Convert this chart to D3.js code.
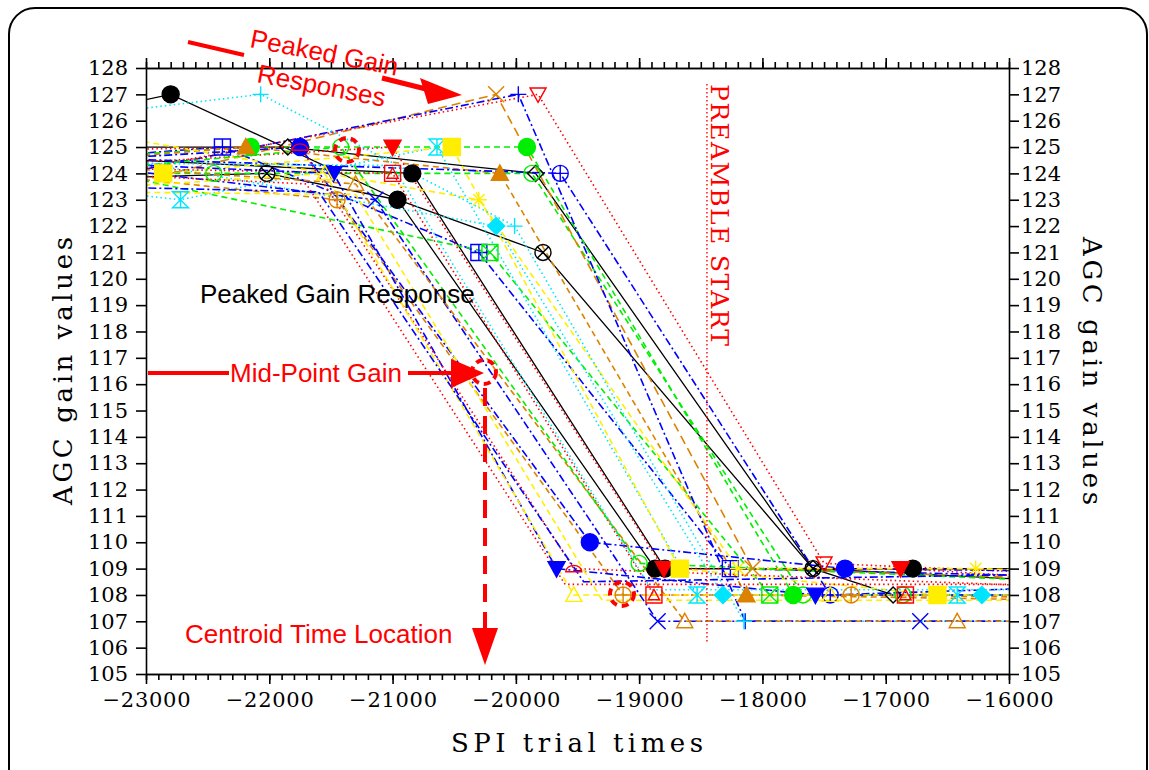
<!DOCTYPE html>
<html lang="en">
<head>
<meta charset="UTF-8">
<script src="https://d3js.org/d3.v7.min.js"></script>
<style>
  body { margin: 0; background: #fff; }
  svg { display: block; }
</style>
</head>
<body>
<div id="chart"></div>
<script>
// axis values
const xMajor = d3.range(-23000, -15999, 1000);
const xMinor = d3.range(-23000, -15999, 100);
const yTicks = d3.range(105, 129);
const preambleTime = -18450;

// series points [SPI trial time, AGC gain]
const sA = [[-23500,126.3],[-22800,127],[-20960,123],[-18870,109],[-16780,109],[-15500,109]];
const sB = [[-23500,124.6],[-20840,124],[-18790,109],[-15500,109]];
const sC = [[-23500,125],[-21850,125],[-19840,124],[-17590,109],[-16940,108],[-15500,108]];
const sD = [[-23500,123.8],[-22020,124],[-20960,123],[-19780,121],[-17590,109],[-15500,108.5]];
const sE = [[-23500,124.6],[-22380,125],[-20300,121],[-18260,109],[-15500,108.7]];
const sF = [[-23500,124.2],[-20210,121],[-17940,108],[-15500,108]];
const sG = [[-23500,124.6],[-22150,125],[-19910,125],[-17750,108],[-15500,108]];
const sH = [[-23500,124],[-22450,124],[-19870,124],[-17670,108],[-16860,108],[-15500,108]];
const sI = [[-23500,124.5],[-22190,125],[-20130,124],[-18130,108],[-15500,107.8]];
const sJ = [[-23500,123.2],[-20160,127],[-18080,109],[-15500,108.6]];
const sK = [[-23500,123.7],[-19980,127],[-18140,107],[-15500,107]];
const sL = [[-23500,123.8],[-19820,127],[-17500,109.2],[-15500,108.8]];
const sM = [[-23500,124.5],[-21750,125],[-19400,110],[-17330,109],[-15500,108.9]];
const sN = [[-23500,124.3],[-21000,125],[-18800,109],[-16880,109],[-15500,108.6]];
const sO = [[-23500,123.4],[-22720,123],[-20640,125],[-18530,108],[-16420,108],[-15500,108]];
const sP = [[-23500,124],[-22860,124],[-20520,125],[-18670,109],[-16580,108],[-15500,108]];
const sQ = [[-23500,124.2],[-21000,124],[-18880,108],[-16840,108],[-15500,108]];
const sR = [[-23500,124.6],[-19640,124],[-17450,108],[-15500,108.3]];
const sS = [[-23500,125.6],[-20300,123],[-18200,109],[-16270,109],[-15500,108.9]];
const sT = [[-23500,124.8],[-20160,122],[-18320,108],[-16220,108],[-15500,108]];
const sU = [[-23500,126.2],[-22070,127],[-20010,122],[-18150,107],[-15500,107]];
const sV = [[-23500,124],[-21450,123],[-19130,108],[-17280,108],[-15500,107.9]];
const sW = [[-23500,124.3],[-21140,123],[-18850,107],[-16720,107],[-15500,107]];
const sX = [[-23500,124.3],[-21300,123.6],[-18630,107],[-16420,107],[-15500,107]];
const sY = [[-23500,124.4],[-21480,124],[-19670,109],[-17570,108],[-15500,108]];
const sZ = [[-23500,124.9],[-21750,125],[-19530,109],[-15500,108.3]];
const s27 = [[-23500,123.4],[-21550,124],[-19530,108],[-17450,108],[-15500,108]];
const s28 = [[-23500,124.1],[-21420,125],[-19000,109.2],[-15500,108.5]];
const s29 = [[-23500,123.3],[-21300,123.2],[-19300,107.8],[-15500,107.8]];
const s30 = [[-23500,123.5],[-21600,123.3],[-19450,108.5],[-15500,108.8]];
const s31 = [[-23500,124.0],[-21700,123.6],[-19600,108.4],[-15500,108.4]];
const s32 = [[-23500,124.4],[-21000,124.3],[-18900,108.2],[-15500,108.2]];

const C = { k: "#000", r: "#ff0000", g: "#00ee00", b: "#0000ff", y: "#ffee00", c: "#00e5ff", o: "#dc8200" };
const DASH = { solid: null, dot: "1.5,3", dash: "6,4", ldash: "9,5", dd: "8,3,2,3" };

const series = [
  { p: sA, c: C.k, d: "solid", s: "circle", f: true },
  { p: sB, c: C.k, d: "solid", s: "circle", f: true },
  { p: sC, c: C.k, d: "solid", s: "diamond", f: false },
  { p: sD, c: C.k, d: "solid", s: "circleX", f: false },
  { p: sE, c: C.b, d: "dd", s: "boxPlus", f: false },
  { p: sF, c: C.g, d: "dash", s: "boxX", f: false },
  { p: sG, c: C.g, d: "dash", s: "circle", f: true },
  { p: sH, c: C.g, d: "dash", s: "circle", f: false },
  { p: sI, c: C.o, d: "dash", s: "triUp", f: true },
  { p: sJ, c: C.o, d: "ldash", s: "x", f: false },
  { p: sK, c: C.b, d: "dd", s: "plus", f: false },
  { p: sL, c: C.r, d: "dot", s: "triDown", f: false },
  { p: sM, c: C.b, d: "dd", s: "circle", f: true },
  { p: sN, c: C.r, d: "dot", s: "triDown", f: true },
  { p: sO, c: C.c, d: "dot", s: "hourglass", f: false },
  { p: sP, c: C.y, d: "dash", s: "square", f: true },
  { p: sQ, c: C.r, d: "dot", s: "boxTri", f: false },
  { p: sR, c: C.b, d: "dd", s: "circlePlus", f: false },
  { p: sS, c: C.y, d: "dash", s: "star", f: false },
  { p: sT, c: C.c, d: "dot", s: "diamond", f: true },
  { p: sU, c: C.c, d: "dot", s: "plus", f: false },
  { p: sV, c: C.o, d: "dash", s: "circlePlus", f: false },
  { p: sW, c: C.b, d: "dd", s: "x", f: false },
  { p: sX, c: C.o, d: "dash", s: "triUp", f: false },
  { p: sY, c: C.b, d: "dd", s: "triDown", f: true },
  { p: sZ, c: C.r, d: "dot", s: "half", f: false },
  { p: s27, c: C.y, d: "dash", s: "triUp", f: false },
  { p: s28, c: C.g, d: "dash", s: "circle", f: false },
  { p: s29, c: C.y, d: "dash", s: "none", f: false },
  { p: s30, c: C.b, d: "dd", s: "none", f: false },
  { p: s31, c: C.r, d: "dot", s: "none", f: false },
  { p: s32, c: C.c, d: "dot", s: "none", f: false }
];

const width = 1149, height = 770;
const svg = d3.select("#chart").append("svg")
  .attr("width", width).attr("height", height);

// outer rounded frame
svg.append("rect")
  .attr("x", 9).attr("y", 8).attr("width", 1138).attr("height", 790)
  .attr("rx", 26).attr("fill", "#fff").attr("stroke", "#000").attr("stroke-width", 2);

const x = d3.scaleLinear().domain([-23000, -16000]).range([146, 1009]);
const y = d3.scaleLinear().domain([105, 128]).range([674, 68]);

svg.append("clipPath").attr("id", "plot")
  .append("rect").attr("x", 146).attr("y", 68).attr("width", 863).attr("height", 606);

const serif = "DejaVu Serif, serif";
const mono = "Liberation Mono, Courier New, monospace";
const sans = "Liberation Sans, Arial, sans-serif";

// symbols
function symPath(k, r) {
  const circ = `M${r},0A${r},${r} 0 1,1 ${-r},0A${r},${r} 0 1,1 ${r},0Z`;
  const sq = `M${-r},${-r}h${2 * r}v${2 * r}h${-2 * r}Z`;
  const pl = `M${-r},0H${r}M0,${-r}V${r}`;
  const ex = `M${-r},${-r}L${r},${r}M${-r},${r}L${r},${-r}`;
  switch (k) {
    case "circle": return circ;
    case "square": return sq;
    case "diamond": return `M0,${-r}L${r},0L0,${r}L${-r},0Z`;
    case "triUp": return `M0,${-r}L${r},${r * 0.8}L${-r},${r * 0.8}Z`;
    case "triDown": return `M0,${r}L${r},${-r * 0.8}L${-r},${-r * 0.8}Z`;
    case "plus": return pl;
    case "x": return ex;
    case "star": {
      const q = r * 0.72;
      return pl + `M${-q},${-q}L${q},${q}M${-q},${q}L${q},${-q}`;
    }
    case "hourglass": return `M${-r},${-r}H${r}L${-r},${r}H${r}Z` + `M0,${-r}V${r}`;
    case "boxPlus": return sq + pl;
    case "boxX": return sq + ex;
    case "circlePlus": return circ + pl;
    case "circleX": {
      const q = r * 0.7;
      return circ + `M${-q},${-q}L${q},${q}M${-q},${q}L${q},${-q}`;
    }
    case "boxTri": return sq + `M0,${-r * 0.7}L${r * 0.7},${r * 0.6}L${-r * 0.7},${r * 0.6}Z`;
    case "half": return `M${-r},${r * 0.4}A${r},${r * 0.8} 0 0,1 ${r},${r * 0.4}Z`;
  }
  return "";
}

const plot = svg.append("g").attr("clip-path", "url(#plot)");
const line = d3.line().x(d => x(d[0])).y(d => y(d[1]));

plot.selectAll("path.series")
  .data(series)
  .join("path")
  .attr("class", "series")
  .attr("d", d => line(d.p))
  .attr("fill", "none")
  .attr("stroke", d => d.c)
  .attr("stroke-width", d => d.d === "solid" ? 1.3 : 1.6)
  .attr("stroke-dasharray", d => DASH[d.d]);

// markers
series.forEach(s => {
  if (s.s === "none") return;
  const pts = s.p.filter(d => d[0] > -23000 && d[0] < -16000);
  plot.selectAll(null)
    .data(pts)
    .join("path")
    .attr("transform", d => `translate(${x(d[0])},${y(d[1])})`)
    .attr("d", symPath(s.s, s.f ? 8.5 : 8))
    .attr("fill", s.f ? s.c : "none")
    .attr("stroke", s.c)
    .attr("stroke-width", 1.4);
});

// preamble start marker
svg.append("line")
  .attr("x1", x(preambleTime)).attr("x2", x(preambleTime))
  .attr("y1", 84).attr("y2", 643)
  .attr("stroke", C.r).attr("stroke-width", 1.4).attr("stroke-dasharray", "1.5,2.5");
svg.append("text")
  .attr("transform", `translate(${x(preambleTime) + 4},84) rotate(90)`)
  .attr("font-family", serif).attr("font-size", 25).attr("fill", C.r)
  .attr("textLength", 262)
  .text("PREAMBLE START");

// axes
function styleAxis(g) {
  g.selectAll("path, line").attr("stroke", "#000").attr("stroke-width", 1.6);
  g.selectAll("text").attr("font-family", serif).attr("font-size", 21).attr("fill", "#000");
}
const fmt = d3.format("d");
svg.append("g").attr("transform", "translate(0,674)")
  .call(d3.axisBottom(x).tickValues(xMinor).tickSize(6).tickSizeOuter(0).tickFormat(""))
  .call(styleAxis);
svg.append("g").attr("transform", "translate(0,674)")
  .call(d3.axisBottom(x).tickValues(xMajor).tickSize(10).tickSizeOuter(0).tickPadding(8).tickFormat(fmt))
  .call(styleAxis)
  .call(g => g.selectAll("text").attr("textLength", 88));
svg.append("g").attr("transform", "translate(0,68)")
  .call(d3.axisTop(x).tickValues(xMinor).tickSize(6).tickSizeOuter(0).tickFormat(""))
  .call(styleAxis);
svg.append("g").attr("transform", "translate(0,68)")
  .call(d3.axisTop(x).tickValues(xMajor).tickSize(10).tickSizeOuter(0).tickFormat(""))
  .call(styleAxis);
svg.append("g").attr("transform", "translate(146,0)")
  .call(d3.axisLeft(y).tickValues(yTicks).tickSize(10).tickSizeOuter(0).tickPadding(8).tickFormat(fmt))
  .call(styleAxis);
svg.append("g").attr("transform", "translate(1009,0)")
  .call(d3.axisRight(y).tickValues(yTicks).tickSize(10).tickSizeOuter(0).tickPadding(2).tickFormat(fmt))
  .call(styleAxis);

// axis titles
svg.append("text")
  .attr("transform", "translate(72,371) rotate(-90)")
  .attr("text-anchor", "middle").attr("font-family", serif).attr("font-size", 26)
  .attr("textLength", 268)
  .text("AGC gain values");
svg.append("text")
  .attr("transform", "translate(1083,371) rotate(90)")
  .attr("text-anchor", "middle").attr("font-family", serif).attr("font-size", 26)
  .attr("textLength", 268)
  .text("AGC gain values");
svg.append("text")
  .attr("x", 577).attr("y", 752)
  .attr("text-anchor", "middle").attr("font-family", serif).attr("font-size", 26)
  .attr("textLength", 252)
  .text("SPI trial times");

// annotations
const ann = svg.append("g");
ann.append("text").attr("x", 200).attr("y", 303)
  .attr("font-family", sans).attr("font-size", 26).attr("fill", "#000")
  .text("Peaked Gain Response");

ann.append("text")
  .attr("transform", "translate(249,47) rotate(11)")
  .attr("font-family", sans).attr("font-size", 26).attr("fill", C.r)
  .text("Peaked Gain");
ann.append("text")
  .attr("transform", "translate(256,82) rotate(11)")
  .attr("font-family", sans).attr("font-size", 26).attr("fill", C.r)
  .text("Responses");
ann.append("line").attr("x1", 188).attr("y1", 42).attr("x2", 244).attr("y2", 55)
  .attr("stroke", C.r).attr("stroke-width", 4);
ann.append("line").attr("x1", 382).attr("y1", 78).attr("x2", 426).attr("y2", 89)
  .attr("stroke", C.r).attr("stroke-width", 5);
ann.append("path").attr("d", "M420,78L428,104L462,95Z").attr("fill", C.r);

ann.append("text").attr("x", 230).attr("y", 382)
  .attr("font-family", sans).attr("font-size", 26).attr("fill", C.r)
  .text("Mid-Point Gain");
ann.append("line").attr("x1", 148).attr("y1", 373).attr("x2", 229).attr("y2", 373)
  .attr("stroke", C.r).attr("stroke-width", 4);
ann.append("line").attr("x1", 408).attr("y1", 373).attr("x2", 453).attr("y2", 373)
  .attr("stroke", C.r).attr("stroke-width", 4);
ann.append("path").attr("d", "M451,359L451,388L484,373Z").attr("fill", C.r);

ann.append("line").attr("x1", 485).attr("y1", 388).attr("x2", 485).attr("y2", 630)
  .attr("stroke", C.r).attr("stroke-width", 4).attr("stroke-dasharray", "18,10");
ann.append("path").attr("d", "M472,628L498,628L485,665Z").attr("fill", C.r);

ann.append("text").attr("x", 185).attr("y", 643)
  .attr("font-family", sans).attr("font-size", 26).attr("fill", C.r)
  .text("Centroid Time Location");

[[347, 150], [484, 372], [622, 594]].forEach(([cx, cy]) => {
  ann.append("circle").attr("cx", cx).attr("cy", cy).attr("r", 12)
    .attr("fill", "none").attr("stroke", C.r).attr("stroke-width", 4)
    .attr("stroke-dasharray", "7,5");
});
</script>
</body>
</html>
